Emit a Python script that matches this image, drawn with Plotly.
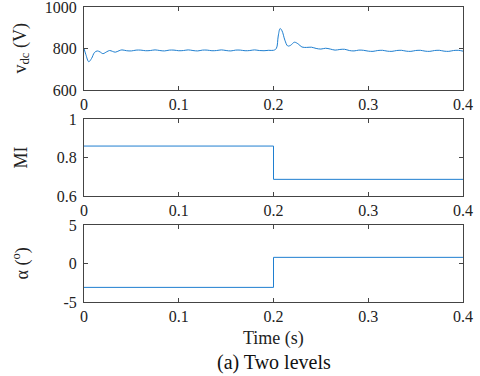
import plotly.graph_objects as go
from plotly.subplots import make_subplots

# DC-link voltage
t_vdc = [0.000, 0.002, 0.005, 0.008, 0.011, 0.014, 0.017, 0.020, 0.024, 0.027,
         0.030, 0.033, 0.037, 0.040, 0.045, 0.050, 0.055, 0.060, 0.065, 0.070,
         0.075, 0.080, 0.085, 0.090, 0.095, 0.100, 0.105, 0.110, 0.115, 0.120,
         0.125, 0.130, 0.135, 0.140, 0.145, 0.150, 0.155, 0.160, 0.165, 0.170,
         0.175, 0.180, 0.185, 0.190, 0.195, 0.200, 0.203, 0.205, 0.207, 0.209,
         0.212, 0.215, 0.218, 0.222, 0.226, 0.230, 0.235, 0.240, 0.245, 0.250,
         0.255, 0.260, 0.265, 0.270, 0.275, 0.280, 0.285, 0.290, 0.295, 0.300,
         0.305, 0.310, 0.315, 0.320, 0.325, 0.330, 0.335, 0.340, 0.345, 0.350,
         0.355, 0.360, 0.365, 0.370, 0.375, 0.380, 0.385, 0.390, 0.395, 0.400]
v_dc = [800, 770, 736, 752, 780, 788, 783, 775, 784, 790,
        786, 782, 789, 793, 789, 788, 792, 792, 789, 790,
        793, 790, 788, 792, 792, 789, 790, 793, 790, 788,
        792, 792, 789, 790, 793, 790, 788, 792, 792, 789,
        790, 793, 790, 789, 791, 791, 800, 860, 896, 885,
        840, 812, 815, 830, 822, 807, 805, 806, 800, 797,
        801, 797, 792, 795, 796, 790, 788, 792, 791, 787,
        786, 790, 791, 787, 786, 790, 791, 787, 786, 790,
        791, 787, 786, 790, 791, 787, 786, 790, 791, 787]

# modulation index and angle (step at 0.2 s)
t_step = [0.0, 0.2, 0.2, 0.4]
mi = [0.86, 0.86, 0.687, 0.687]
alpha = [-3.1, -3.1, 0.8, 0.8]

line_color = "#1f7fd0"
font = "Liberation Serif, Times New Roman, serif"
txt = "#222222"

fig = make_subplots(rows=3, cols=1, vertical_spacing=0.0)
fig.add_trace(go.Scatter(x=t_vdc, y=v_dc, mode="lines", line_shape="spline",
                         line=dict(color=line_color, width=1)), row=1, col=1)
fig.add_trace(go.Scatter(x=t_step, y=mi, mode="lines",
                         line=dict(color=line_color, width=1)), row=2, col=1)
fig.add_trace(go.Scatter(x=t_step, y=alpha, mode="lines",
                         line=dict(color=line_color, width=1)), row=3, col=1)

axis_style = dict(showline=True, linecolor="#444444", linewidth=1, mirror="ticks",
                  ticks="inside", ticklen=4, tickcolor="#444444", showgrid=False,
                  zeroline=False, automargin=False, ticklabeloverflow="allow",
                  tickfont=dict(family=font, size=16, color=txt))

domains = [[0.719, 1.0], [0.359, 0.620], [0.0, 0.261]]
yranges = [[600, 1000], [0.6, 1.0], [-5, 5]]
ytickvals = [[600, 800, 1000], [0.6, 0.8, 1.0], [-5, 0, 5]]
yticktext = [["600", "800", "1000"], ["0.6", "0.8", "1"], ["-5", "0", "5"]]
ylabels = ["v<sub>dc</sub> (V)", "MI", "α (<sup>o</sup>)"]

for i in range(3):
    fig.update_xaxes(axis_style, range=[0, 0.4], tickvals=[0, 0.1, 0.2, 0.3, 0.4],
                     ticktext=["0", "0.1", "0.2", "0.3", "0.4"], row=i + 1, col=1)
    fig.update_yaxes(axis_style, range=yranges[i], domain=domains[i],
                     tickvals=ytickvals[i], ticktext=yticktext[i],
                     ticklabelstandoff=3, row=i + 1, col=1)
    fig.add_annotation(text=ylabels[i], textangle=-90, showarrow=False,
                       x=0, xref="paper", xshift=-63, xanchor="center",
                       y=sum(domains[i]) / 2, yref="paper", yanchor="middle",
                       font=dict(family=font, size=18, color=txt))

fig.add_annotation(text="Time (s)", showarrow=False, x=0.5, xref="paper",
                   y=0, yref="paper", yshift=-36, yanchor="middle",
                   font=dict(family=font, size=18, color=txt))
fig.add_annotation(text="(a) Two levels", showarrow=False, x=0.5, xref="paper",
                   y=0, yref="paper", yshift=-60, yanchor="middle",
                   font=dict(family=font, size=20, color="#111111"))

fig.update_layout(width=480, height=376, showlegend=False,
                  margin=dict(l=84, r=17, t=7, b=74),
                  plot_bgcolor="white", paper_bgcolor="white")

fig.write_html("out.html", config={"displayModeBar": False},
               post_script="document.body.style.margin='0';")
